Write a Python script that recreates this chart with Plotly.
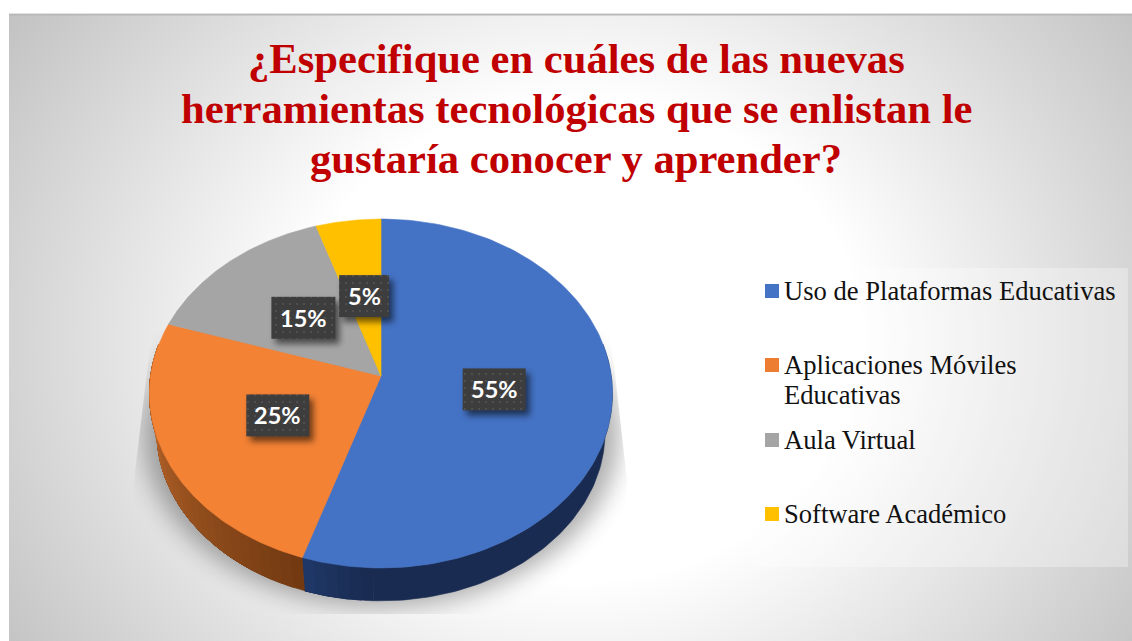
import base64
import numpy as np
import plotly.graph_objects as go

# ---- data ----
categories = ["Uso de Plataformas Educativas", "Aplicaciones Móviles<br>Educativas", "Aula Virtual", "Software Académico"]
values = [55, 25, 15, 5]
labels = ["55%", "25%", "15%", "5%"]
title_lines = ["¿Especifique en cuáles de las nuevas",
               "herramientas tecnológicas que se enlistan le",
               "gustaría conocer y aprender?"]

# ---- style ----
face_colors = ["#4472C4", "#F38235", "#A5A5A5", "#FFC000"]
key_colors = ["#4472C4", "#ED7D31", "#A5A5A5", "#FFC000"]
W, H = 1132, 641
APEX_X, APEX_Y = 381, 376
A, B, K = 230.3, 172.7, 0.1003     # perspective projection of the pie disc
WALL_SCALE, WALL_DROP = 0.968, 39
LABEL_FRACTION = [0.49, 0.48, 0.51, 0.515]
BOX_W = [63, 63, 64, 50]
BOX_H = 42
KEY_Y = [291, 365, 440, 514]
LINE_GAP = 30
TITLE_Y = [58.5, 108.5, 158.5]


def project(fraction, radial=1.0, scale=1.0, drop=0.0):
    ang = 2 * np.pi * np.asarray(fraction, dtype=float)
    u, v = radial * np.sin(ang), radial * np.cos(ang)
    d = 1 + K * v
    return APEX_X + scale * A * u / d, APEX_Y + drop - scale * B * v / d


def lerp_hex(c0, c1, t):
    a = [int(c0[i:i + 2], 16) for i in (1, 3, 5)]
    b = [int(c1[i:i + 2], 16) for i in (1, 3, 5)]
    return "#%02x%02x%02x" % tuple(int(round(p + (q - p) * t)) for p, q in zip(a, b))


cum = np.cumsum([0] + values) / sum(values)
fig = go.Figure()


def add_poly(x, y, color):
    fig.add_trace(go.Scatter(x=x, y=y, mode="lines", fill="toself", fillcolor=color,
                             line=dict(color=color, width=0.6), hoverinfo="skip", showlegend=False))


# side walls: each band reaches to the wall's far end and the next one paints over it,
# so that the shading varies without seams
def wall(f0, f1, c0, c1, n):
    edges = np.linspace(f0, f1, n + 1)
    for i in range(n):
        fr = np.linspace(edges[i], f1, 100)
        xt, yt = project(fr)
        xb, yb = project(fr, scale=WALL_SCALE, drop=WALL_DROP)
        add_poly(np.r_[xt, xb[::-1]], np.r_[yt, yb[::-1]], lerp_hex(c0, c1, i / max(n - 1, 1)))


wall(0.22, cum[1] - 0.045, "#192b50", "#192b50", 1)
wall(cum[1] - 0.045, cum[1], "#192b50", "#1f3766", 6)
wall(cum[1], 0.78, "#733a12", "#c87030", 30)

# top faces
for i in range(len(values)):
    fr = np.linspace(cum[i], cum[i + 1], 160)
    xr, yr = project(fr)
    add_poly(np.r_[APEX_X, xr, APEX_X], np.r_[APEX_Y, yr, APEX_Y], face_colors[i])

# legend keys
fig.add_trace(go.Scatter(x=[772] * len(categories), y=KEY_Y, mode="markers",
                         marker=dict(symbol="square", size=14, color=key_colors, line=dict(width=0)),
                         hoverinfo="skip", showlegend=False))

annotations = []
for line, y in zip(title_lines, TITLE_Y):
    annotations.append(dict(x=576, y=y, xref="x", yref="y", text=f"<b>{line}</b>", showarrow=False,
                            xanchor="center", yanchor="middle",
                            font=dict(family="Liberation Serif", size=42.6, color="#C00000")))
for cat, y in zip(categories, KEY_Y):
    for j, line in enumerate(cat.split("<br>")):
        annotations.append(dict(x=784, y=y + j * LINE_GAP, xref="x", yref="y", text=line, showarrow=False,
                                xanchor="left", yanchor="middle", xshift=-2,
                                font=dict(family="Liberation Serif", size=26.6, color="#111111")))

# data labels
box_svg = ""
for i, lab in enumerate(labels):
    mid = (cum[i] + cum[i + 1]) / 2
    cx, cy = project(mid, radial=1.0)
    lx = APEX_X + (cx - APEX_X) * LABEL_FRACTION[i]
    ly = APEX_Y + (cy - APEX_Y) * LABEL_FRACTION[i]
    x0, y0 = lx - BOX_W[i] / 2, ly - BOX_H / 2
    box_svg += (f'<rect x="{x0:.1f}" y="{y0:.1f}" width="{BOX_W[i]}" height="{BOX_H}" fill="#000" '
                f'opacity="0.55" filter="url(#b3)" transform="translate(4 5)"/>'
                f'<rect x="{x0:.1f}" y="{y0:.1f}" width="{BOX_W[i]}" height="{BOX_H}" fill="url(#dots)"/>')
    annotations.append(dict(x=lx, y=ly, xref="x", yref="y", text=f"<b>{lab}</b>", showarrow=False,
                            font=dict(family="Lato", size=23.5, color="white")))


def data_uri(svg):
    return "data:image/svg+xml;base64," + base64.b64encode(svg.encode()).decode()


bg_svg = f'''<svg xmlns="http://www.w3.org/2000/svg" width="{W}" height="{H}" viewBox="0 0 {W} {H}">
<defs>
<radialGradient id="g" gradientUnits="userSpaceOnUse" cx="0" cy="0" r="1"
 gradientTransform="translate(580 340) scale(700 600)">
<stop offset="0.4" stop-color="#ffffff"/><stop offset="1" stop-color="#c0c0c0"/></radialGradient>
<filter id="b" x="-20%" y="-20%" width="140%" height="140%"><feGaussianBlur stdDeviation="12"/></filter>
<clipPath id="c"><polygon points="152,330 610,330 627,480 627,614 134,614 134,480"/></clipPath>
</defs>
<rect x="0" y="0" width="{W}" height="{H}" fill="#ffffff"/>
<rect x="9" y="13" width="{W-9}" height="{H-13}" fill="url(#g)"/>
<rect x="9" y="13" width="{W-9}" height="1" fill="#e2e2e2"/>
<rect x="9" y="14" width="{W-9}" height="1.5" fill="#b8b8b8"/>
<g clip-path="url(#c)"><ellipse cx="381" cy="434" rx="238" ry="172" fill="#000" opacity="0.32" filter="url(#b)"/></g>
</svg>'''

top_svg = f'''<svg xmlns="http://www.w3.org/2000/svg" width="{W}" height="{H}" viewBox="0 0 {W} {H}">
<defs>
<filter id="b3" x="-30%" y="-30%" width="160%" height="160%"><feGaussianBlur stdDeviation="3"/></filter>
<pattern id="dots" width="7" height="7" patternUnits="userSpaceOnUse">
<rect width="7" height="7" fill="#3d3d3d"/><rect x="2" y="2" width="2" height="2" fill="#4f4f4f"/></pattern>
</defs>{box_svg}</svg>'''

full = dict(xref="paper", yref="paper", x=0, y=1, sizex=1, sizey=1, xanchor="left", yanchor="top", sizing="stretch")

fig.update_layout(
    width=W, height=H, margin=dict(l=0, r=0, t=0, b=0),
    paper_bgcolor="white", plot_bgcolor="rgba(0,0,0,0)", showlegend=False,
    xaxis=dict(range=[0, W], visible=False, fixedrange=True),
    yaxis=dict(range=[H, 0], visible=False, fixedrange=True),
    images=[dict(source=data_uri(bg_svg), layer="below", **full),
            dict(source=data_uri(top_svg), layer="above", **full)],
    shapes=[dict(type="rect", xref="x", yref="y", x0=752, x1=1128, y0=268, y1=567, layer="below",
                 fillcolor="rgba(255,255,255,0.3)", line=dict(width=0))],
    annotations=annotations,
)

fig.write_html("out.html", config=dict(displayModeBar=False),
               post_script="document.body.style.margin='0';document.body.style.overflow='hidden';")
